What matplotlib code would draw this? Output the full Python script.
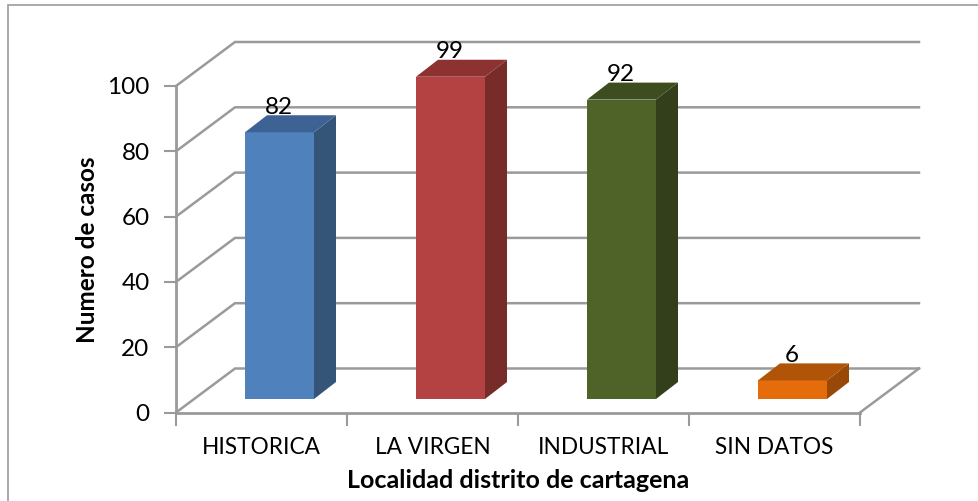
import matplotlib
matplotlib.use("Agg")
import matplotlib.pyplot as plt
from matplotlib.patches import Polygon, Rectangle

plt.rcParams['font.family'] = ['Lato', 'DejaVu Sans']

categories = ["HISTORICA", "LA VIRGEN", "INDUSTRIAL", "SIN DATOS"]
values = [82, 99, 92, 6]
y_ticks = [0, 20, 40, 60, 80, 100]
front_colors = ["#4F81BD", "#B54242", "#4F6228", "#E46C0A"]
side_colors = ["#345578", "#772C2A", "#333F1A", "#984807"]
top_colors = ["#3D6394", "#8C3331", "#3E4D20", "#B05508"]

W, H = 979, 501
GRID = "#9a9a9a"

fig = plt.figure(figsize=(W / 100, H / 100), dpi=100)

# outer chart frame
fig.add_artist(Rectangle((8 / W, -0.02), 1.1, 1 - 5 / H + 0.02, transform=fig.transFigure,
                         fill=False, ec="#9c9c9c", lw=1.2))

# axes sit on the front plane of the fake 3d box
ax = fig.add_axes([176 / W, 1 - 412.5 / H, (860 - 176) / W, (412.5 - 86) / H])
ax.set_xlim(0, 4)
ax.set_ylim(0, 100)
ax.patch.set_visible(False)

# depth of the box and of the bars, in data units
px_x = 4 / (860 - 176)
px_y = 100 / (412.5 - 86)
box_dx, box_dy = 59 * px_x, 44 * px_y
bar_off_x, bar_off_y = 18 * px_x, 13.5 * px_y
bar_dx, bar_dy = 22 * px_x, 17 * px_y
bar_w = 69 * px_x

for v in y_ticks:
    ax.plot([0, box_dx, 4 + box_dx], [v, v + box_dy, v + box_dy], color=GRID, lw=1.8,
            clip_on=False, zorder=1, solid_joinstyle="miter")
ax.plot([4, 4 + box_dx], [0, box_dy], color=GRID, lw=1.8, clip_on=False, zorder=1)

for i, v in enumerate(values):
    x0 = i + 0.5 - bar_w / 2 + bar_off_x
    x1 = x0 + bar_w
    y0 = bar_off_y
    y1 = y0 + v - 0.3
    ax.add_patch(Polygon([(x0, y0), (x1, y0), (x1, y1), (x0, y1)], fc=front_colors[i], ec="none",
                         clip_on=False, zorder=3))
    ax.add_patch(Polygon([(x1, y0), (x1 + bar_dx, y0 + bar_dy), (x1 + bar_dx, y1 + bar_dy), (x1, y1)],
                         fc=side_colors[i], ec="none", clip_on=False, zorder=3))
    ax.add_patch(Polygon([(x0, y1), (x1, y1), (x1 + bar_dx, y1 + bar_dy), (x0 + bar_dx, y1 + bar_dy)],
                         fc=top_colors[i], ec="none", clip_on=False, zorder=3))
    ax.text((x0 + x1) / 2 - 1 * px_x, y1 + bar_dy - 0.7, str(v), ha="center", va="bottom", fontsize=17.5,
            color="black", zorder=4, clip_on=False)

for s in ["top", "right"]:
    ax.spines[s].set_visible(False)
for s in ["left", "bottom"]:
    ax.spines[s].set_color(GRID)
    ax.spines[s].set_linewidth(2)
    ax.spines[s].set_zorder(2)

ax.set_yticks(y_ticks)
ax.set_xticks(range(5))
ax.set_xticklabels([])
ax.set_xticks([i + 0.5 for i in range(4)], minor=True)
ax.set_xticklabels(categories, minor=True, fontsize=16.3)
ax.tick_params(axis="x", which="minor", length=0, pad=17.5)
ax.tick_params(axis="x", which="major", length=9, width=1.5, color=GRID)
ax.tick_params(axis="y", length=9, width=1.5, color=GRID, labelsize=17.5, pad=10)

fig.text(88 / W, 1 - 250 / H, "Numero de casos", rotation=90, ha="center", va="center",
         fontsize=17.5, fontweight="bold")
fig.text(518 / W, 1 - 481 / H, "Localidad distrito de cartagena", ha="center", va="center",
         fontsize=18, fontweight="bold")

fig.savefig("out.png", dpi=100)
